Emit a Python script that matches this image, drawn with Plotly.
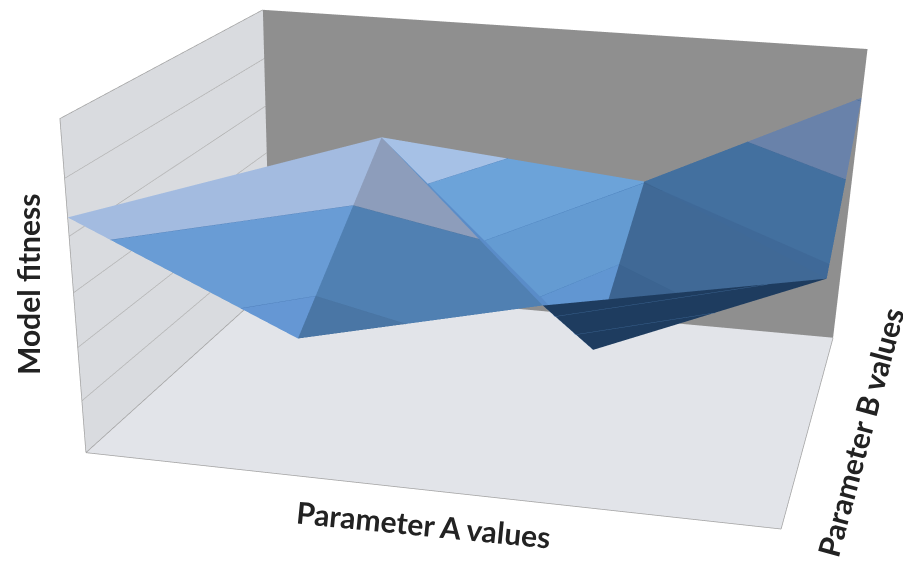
import plotly.graph_objects as go

# Parameter sweep: fitness per (B row, A column); blank cells were not evaluated
param_a = [0, 0.97, 1.98, 3]
param_b = [0, 1.0, 2]
fitness_b0 = [43.3, 25.6, 35.4, None]
fitness_b1 = [None, 48.1, 10.4, 28.4]
fitness_b2 = [None, None, 30.2, 50.5]
fitness = [fitness_b0, fitness_b1, fitness_b2]
levels = [0, 10, 20, 30, 40, 50, 60]

axis_titles = ["Model fitness", "Parameter A values", "Parameter B values"]

# Grid nodes (row, col) of each triangular facet
facets = [
    ((0, 0), (1, 1), (0, 1)),
    ((1, 1), (0, 1), (0, 2)),
    ((1, 1), (0, 2), (1, 2)),
    ((1, 1), (1, 2), (2, 2)),
    ((2, 2), (1, 2), (1, 3)),
    ((2, 2), (1, 3), (2, 3)),
    ((0, 2), (1, 2), (1, 3)),
]
# Shade of every facet in the fitness bands 0-10, 10-20, 20-30, 30-40, 40-50, 50-60
facet_colors = [
    ["#6597d4", "#6597d4", "#6597d4", "#699cd5", "#a3bbe0", "#a3bbe0"],
    ["#4a76a5", "#4a76a5", "#4a76a5", "#5080b2", "#8d9dbb", "#8d9dbb"],
    ["#5a8cc8", "#5a8cc8", "#5a8cc8", "#5a8cc8", "#5f90c8", "#5f90c8"],
    ["#6196d2", "#6196d2", "#649bd2", "#6ca3d9", "#a6c1e6", "#a6c1e6"],
    ["#3c6491", "#3c6491", "#406996", "#406996", "#406996", "#406996"],
    ["#3f6998", "#3f6998", "#3f6998", "#43709f", "#6982aa", "#6982aa"],
    ["#1e3c5f", "#1e3c5f", "#1e3c5f", "#1e3c5f", "#1e3c5f", "#1e3c5f"],
]
band_edge_colors = ["#4a7ab5", "#47729f", "#5a8cc8", "#4a7fbb", "#38608c", "#3f6796", "#3f6a98"]


def clip_to_band(poly, lo, hi):
    def clip(points, limit, sign):
        out = []
        for i, p in enumerate(points):
            q = points[(i + 1) % len(points)]
            dp, dq = sign * (p[2] - limit), sign * (q[2] - limit)
            if dp >= 0:
                out.append(p)
            if dp * dq < 0:
                t = dp / (dp - dq)
                out.append(tuple(p[k] + t * (q[k] - p[k]) for k in range(3)))
        return out
    points = clip(poly, lo, 1)
    return clip(points, hi, -1) if points else []


def level_crossing(tri, level):
    hits = []
    for i in range(3):
        p, q = tri[i], tri[(i + 1) % 3]
        if (p[2] - level) * (q[2] - level) < 0:
            t = (level - p[2]) / (q[2] - p[2])
            hits.append(tuple(p[k] + t * (q[k] - p[k]) for k in range(3)))
    return hits if len(hits) == 2 else []


vx, vy, vz, fi, fj, fk, fc = [], [], [], [], [], [], []
fig = go.Figure()
for n, facet in enumerate(facets):
    tri = [(param_a[c], param_b[r], fitness[r][c]) for r, c in facet]
    lx, ly, lz = [], [], []
    for b in range(len(levels) - 1):
        poly = clip_to_band(tri, levels[b], levels[b + 1])
        if len(poly) >= 3:
            base = len(vx)
            for p in poly:
                vx.append(p[0]); vy.append(p[1]); vz.append(p[2])
            for m in range(1, len(poly) - 1):
                fi.append(base); fj.append(base + m); fk.append(base + m + 1)
                fc.append(facet_colors[n][b])
        for p in level_crossing(tri, levels[b + 1]):
            lx.append(p[0]); ly.append(p[1]); lz.append(p[2])
        if lx and lx[-1] is not None:
            lx.append(None); ly.append(None); lz.append(None)
    if lx:
        fig.add_trace(go.Scatter3d(x=lx, y=ly, z=lz, mode="lines",
                                   line=dict(color=band_edge_colors[n], width=1.5), hoverinfo="skip"))

fig.add_trace(go.Mesh3d(x=vx, y=vy, z=vz, i=fi, j=fj, k=fk, facecolor=fc, flatshading=True,
                        lighting=dict(ambient=1, diffuse=0, specular=0, roughness=1, fresnel=0),
                        hoverinfo="skip"))

# Wall rules and the outline of the box
a0, a1 = param_a[0], param_a[-1]
b0, b1 = param_b[0], param_b[-1]
z0, z1 = levels[0], levels[-1]
rule_x, rule_y, rule_z = [], [], []
for lv in levels[1:]:
    rule_x += [a0, a0, None]; rule_y += [b0, b1, None]; rule_z += [lv, lv, None]
fig.add_trace(go.Scatter3d(x=rule_x, y=rule_y, z=rule_z, mode="lines",
                           line=dict(color="#b4b4b4", width=1.5), hoverinfo="skip"))
fig.add_trace(go.Scatter3d(
    x=[a0, a0, a0, None, a0, a1, a1, None, a0, a0],
    y=[b1, b0, b0, None, b0, b0, b1, None, b0, b1],
    z=[z1, z1, z0, None, z0, z0, z0, None, z0, z0],
    mode="lines", line=dict(color="#a2a2a2", width=1.5), hoverinfo="skip"))

# The scene is laid out taller than the window, which gives the long lens of this view
scene_height = 1700


def paper_y(py):
    return 1 - py / scene_height


title_font = dict(family="Lato", size=30, color="#222222", weight="bold")
title_style = dict(xref="paper", yref="paper", xanchor="center", yanchor="middle",
                   showarrow=False, font=title_font)
axis = dict(showgrid=False, zeroline=False, showticklabels=False, showspikes=False,
            ticks="", title="", showbackground=True, showline=False)
fig.update_layout(
    width=903, height=scene_height, margin=dict(l=0, r=0, t=0, b=0),
    paper_bgcolor="white", showlegend=False,
    scene=dict(
        xaxis=dict(axis, range=[a0, a1], backgroundcolor="#d9dbdf"),
        yaxis=dict(axis, range=[b0, b1], backgroundcolor="#8f8f8f"),
        zaxis=dict(axis, range=[z0, z1], backgroundcolor="#e2e4e9"),
        aspectmode="manual",
        aspectratio=dict(x=1, y=0.861, z=0.464),
        camera=dict(eye=dict(x=0.656, y=-3.05, z=0.845),
                    center=dict(x=0.216, y=-1.135, z=-0.368),
                    up=dict(x=-0.14, y=0.507, z=0.851)),
    ),
    annotations=[
        dict(text=axis_titles[0], x=28 / 903, y=paper_y(285), textangle=-90, **title_style),
        dict(text=axis_titles[1], x=423 / 903, y=paper_y(524), textangle=5.7, **title_style),
        dict(text=axis_titles[2], x=860 / 903, y=paper_y(432), textangle=-75, **title_style),
    ],
)
fig.write_html("out.html", post_script="document.documentElement.style.overflow='hidden';")
